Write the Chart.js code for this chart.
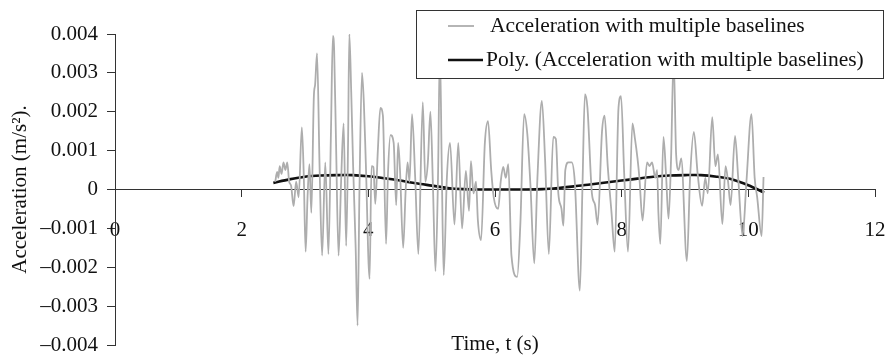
<!DOCTYPE html>
<html>
<head>
<meta charset="utf-8">
<script src="https://cdn.jsdelivr.net/npm/chart.js@4.4.1/dist/chart.umd.min.js"></script>
<style>
  html, body { margin: 0; padding: 0; background: #fff; }
</style>
</head>
<body>
<canvas id="grafico_acc" width="890" height="357"></canvas>
<script>
// recorded acceleration (m/s2) against time (s)
var time = [2.53, 2.56, 2.58, 2.60, 2.63, 2.66, 2.69, 2.72, 2.75, 2.78, 2.82, 2.86, 2.90, 2.95, 2.98,
  3.01, 3.04, 3.07, 3.10, 3.14, 3.16, 3.19, 3.23, 3.27, 3.32, 3.37, 3.41, 3.44, 3.46, 3.49, 3.53, 3.57,
  3.61, 3.65, 3.68, 3.70, 3.73, 3.76, 3.80, 3.83, 3.86, 3.90, 3.93, 3.96, 4.02, 4.05, 4.08, 4.11, 4.15,
  4.19, 4.23, 4.28, 4.31, 4.35, 4.40, 4.44, 4.47, 4.50, 4.55, 4.59, 4.62, 4.65, 4.69, 4.74,
  4.79, 4.86, 4.90, 4.94, 4.98, 5.02, 5.06, 5.10, 5.13, 5.16, 5.19, 5.24, 5.29, 5.36, 5.42, 5.48,
  5.54, 5.59, 5.62, 5.66, 5.70, 5.73, 5.78, 5.84, 5.89, 5.94, 5.98, 6.05, 6.09, 6.13, 6.17, 6.21,
  6.26, 6.35, 6.40, 6.46, 6.51, 6.56, 6.62, 6.67, 6.74, 6.79, 6.85, 6.92, 6.96, 7.00, 7.05, 7.08,
  7.11, 7.16, 7.21, 7.26, 7.34, 7.38, 7.42, 7.46, 7.53, 7.58, 7.62, 7.69, 7.73, 7.78, 7.84, 7.89,
  7.95, 7.99, 8.04, 8.10, 8.17, 8.21, 8.25, 8.28, 8.33, 8.40, 8.44, 8.48, 8.53, 8.56, 8.58, 8.61,
  8.66, 8.70, 8.74, 8.78, 8.82, 8.86, 8.90, 8.94, 9.03, 9.08, 9.14, 9.20, 9.27, 9.32, 9.36, 9.43,
  9.48, 9.52, 9.59, 9.64, 9.68, 9.72, 9.79, 9.84, 9.91, 9.97, 10.05, 10.10, 10.14, 10.21, 10.24];

var acceleration = [0.0002, 0.00045, 0.0003, 0.0006, 0.0004, 0.0007, 0.0005, 0.0007, 0.0002, 0.0001,
  -0.00043, 0.0002, -0.0002, 0.0016, 0.0004, -0.0016, -0.0002, 0.00065, -0.0006, 0.0024, 0.0027,
  0.0035, 0.0006, -0.0017, 0.0007, -0.00166, 0.0015, 0.00395, 0.0036, 0.0012, -0.0017, 0.0002, 0.0017,
  -0.00145, 0.0012, 0.004, 0.0025, 0.0006, -0.0015, -0.0035, 0, 0.003, 0.0022, 0.0007, -0.0023, 0.0006,
  0.00058, -0.00037, 0.001, 0.0021, 0.0019, -0.0014, 0.0004, 0.0014, 0.0012, -0.0004, 0.0012,
  0.0005, -0.0015, 0, 0.0007, 0.0002, 0.00194, 0.0003, -0.00166, 0.00225, 0.0002, 0.0007,
  0.002, 0.0001, -0.0021, 0.0003, 0.0036, 0.0005, -0.0022, 0.0003, 0.0012, -0.0009, 0.0012, -0.001,
  0.00048, -0.00055, 0.00073, -0.0001, 0.0002, -0.0008, -0.0013, 0.0012, 0.00176, 0.0005, -0.0002,
  -0.0005, 0.0002, 0.00058, 0.0003, 0.00065, -0.0017, -0.00225, -0.0009, 0.00194, 0.00143, 0.0001,
  -0.0019, 0.0003, 0.00228, 0.0008, -0.00166, 0.00135, 0.0013, -0.0001, -0.0005, -0.00093, 0.0005,
  0.0007, 0.0007, 0.0002, -0.0026, 0, 0.00245, 0.0021, -0.0001, -0.0004, -0.0009, 0.0015, 0.0019,
  0.0006, -0.0006, -0.0016, 0.0021, 0.0024, 0.0004, -0.0016, 0.0017, 0.0013, 0.0008, 0.0003,
  -0.0008, 0.0007, 0.0006, 0.0007, 0.0003, 0.0005, -0.0006, -0.0014, 0.00135, 0.0004, -0.00075,
  0.0008, 0.0034, 0.0009, 0.0005, 0.0008, -0.00184, 0.0003, 0.00148, 0.0004, -0.00042, 0.0003,
  -0.0001, 0.00186, 0.0006, 0.0009, -0.00089, 0.0006, 0.0002, -0.0004, 0.00138, 0.0003, -0.0012,
  0.0002, 0.00194, 0.0003, -0.0002, -0.0012, 0.00032];

// polynomial trend line
var timePoly = [2.5, 2.75, 3.0, 3.25, 3.5, 3.75, 4.0, 4.25, 4.5, 4.75, 5.0, 5.25, 5.5, 5.75, 6.0,
  6.25, 6.5, 6.75, 7.0, 7.25, 7.5, 7.75, 8.0, 8.25, 8.5, 8.75, 9.0, 9.25, 9.5, 9.75, 10.0, 10.25];
var accelerationPoly = [0.00017, 0.00026, 0.00033, 0.00036, 0.00037, 0.00037, 0.00034, 0.00029,
  0.00023, 0.00016, 0.0001, 0.00004, 0.00001, 0, 0, 0, 0, 0.00001, 0.00004, 0.00008, 0.00013,
  0.00018, 0.00023, 0.00028, 0.00033, 0.00036, 0.00037, 0.00037, 0.00033, 0.00026, 0.00011, -0.00008];

var xTicks = [0, 2, 4, 6, 8, 10, 12];
var yTicks = [-0.004, -0.003, -0.002, -0.001, 0, 0.001, 0.002, 0.003, 0.004];
var yTickLabels = ['\u20130.004', '\u20130.003', '\u20130.002', '\u20130.001', '0',
  '0.001', '0.002', '0.003', '0.004'];

var serif = "'Liberation Serif', 'Times New Roman', serif";
var fontSize = 21;

function pairs(xs, ys) {
  return xs.map(function (x, i) { return { x: x, y: ys[i] }; });
}

// legend box drawn inside the plot, plus the x title under it
var boxLegend = {
  id: 'boxLegend',
  afterDraw: function (chart) {
    var c = chart.ctx;
    var area = chart.chartArea;
    var ds = chart.data.datasets;
    c.save();
    c.fillStyle = '#fff';
    c.fillRect(416, 10, 467, 68);
    c.strokeStyle = '#333';
    c.lineWidth = 1;
    c.strokeRect(416.5, 10.5, 467, 68);

    c.font = '21.5px ' + serif;
    c.textBaseline = 'middle';
    c.fillStyle = '#111';
    var rows = [{ y: 26, x2: 474, tx: 490 }, { y: 60, x2: 483, tx: 486 }];
    rows.forEach(function (r, i) {
      c.strokeStyle = ds[i].borderColor;
      c.lineWidth = ds[i].borderWidth;
      c.beginPath();
      c.moveTo(448, r.y);
      c.lineTo(r.x2, r.y);
      c.stroke();
      c.fillText(ds[i].label, r.tx, r.y);
    });

    c.font = fontSize + 'px ' + serif;
    c.textAlign = 'center';
    c.fillText('Time, t (s)', (area.left + area.right) / 2, 344);
    c.restore();
  }
};

var ctx = document.getElementById('grafico_acc').getContext('2d');
var accChart = new Chart(ctx, {
  type: 'line',
  data: {
    datasets: [{
      label: 'Acceleration with multiple baselines',
      data: pairs(time, acceleration),
      borderColor: '#adadad',
      borderWidth: 1.8,
      pointRadius: 0,
      cubicInterpolationMode: 'monotone'
    }, {
      label: 'Poly. (Acceleration with multiple baselines)',
      data: pairs(timePoly, accelerationPoly),
      borderColor: '#111',
      borderWidth: 2.6,
      pointRadius: 0,
      tension: 0.3
    }]
  },
  options: {
    responsive: false,
    animation: false,
    devicePixelRatio: 1,
    layout: { padding: { left: 0, right: 15, top: 34, bottom: 12 } },
    plugins: {
      legend: { display: false },
      tooltip: { enabled: false }
    },
    scales: {
      x: {
        type: 'linear',
        min: 0,
        max: 12,
        position: { y: 0 },
        afterBuildTicks: function (s) { s.ticks = xTicks.map(function (v) { return { value: v }; }); },
        afterFit: function (s) { s.paddingLeft = 0; s.paddingRight = 0; },
        border: { color: '#333', width: 1 },
        grid: { drawOnChartArea: false, drawTicks: true, tickLength: 7, color: '#333' },
        ticks: {
          padding: 21,
          maxRotation: 0,
          color: '#111',
          font: { family: serif, size: fontSize }
        }
      },
      y: {
        min: -0.004,
        max: 0.004,
        position: 'left',
        afterFit: function (s) { s.width = 115; s.paddingTop = 0; s.paddingBottom = 0; },
        afterBuildTicks: function (s) { s.ticks = yTicks.map(function (v) { return { value: v }; }); },
        border: { color: '#333', width: 1 },
        grid: { drawOnChartArea: false, drawTicks: true, tickLength: 8, color: '#333' },
        ticks: {
          padding: 9,
          color: '#111',
          font: { family: serif, size: fontSize },
          callback: function (value, index) { return yTickLabels[index]; }
        },
        title: {
          display: true,
          text: 'Acceleration (m/s\u00b2).',
          color: '#111',
          font: { family: serif, size: fontSize },
          padding: { top: 8, bottom: 0 }
        }
      }
    }
  },
  plugins: [boxLegend]
});
</script>
</body>
</html>
